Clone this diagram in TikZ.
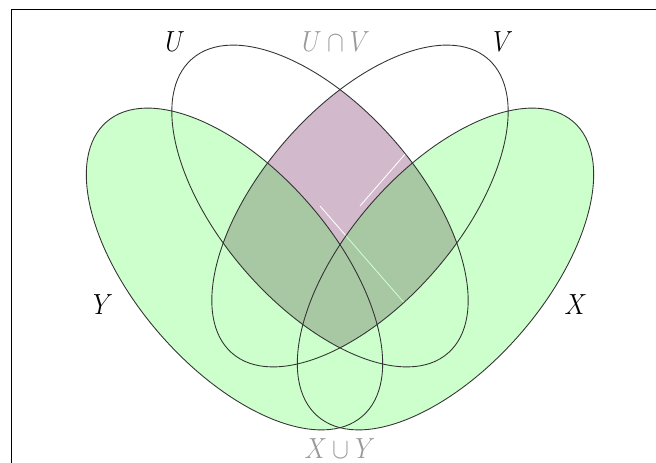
\documentclass[tikz,border=0pt]{standalone}
\usepackage{amsmath,amssymb}
\usepackage{xcolor}
\usepackage{tikz}
\definecolor{uvpink}{RGB}{211,185,204}

\begin{document}
\begin{tikzpicture}[
    posU/.style={shift={(-0.4,1.26)},rotate=-49},
    posV/.style={shift={(0.4,1.26)},rotate=49},
    posY/.style={shift={(-2.11,0)},rotate=-49},
    posX/.style={shift={(2.11,0)},rotate=49},
    rim/.style={draw=black!80,line width=0.5pt},
    seam/.style={draw=white,line width=0.5pt},
    lbl/.style={font=\Large,yscale=1.15},
    faint/.style={lbl,text=black!40}]
  \path[use as bounding box] (-6.8,-3.88) rectangle (6.32,5.38);
  \draw[line width=0.6pt] (-6.566,-3.88) |- (6.32,5.19);

  \begin{scope}
    \clip[posU] (0,0) ellipse (3.9 and 1.98);
    \clip[posV] (0,0) ellipse (3.9 and 1.98);
    \fill[uvpink] (-3,-3) rectangle (3,5);
    \draw[seam] (-0.4,1.26) -- ++(-49:3.9);
    \draw[seam] (0.4,1.26) -- ++(49:3.9);
  \end{scope}

  \fill[green,opacity=0.2] {[posY] (0,0) ellipse (3.9 and 1.98)}
                           {[posX] (0,0) ellipse (3.9 and 1.98)};

  \draw[rim,posY] (0,0) ellipse (3.9 and 1.98);
  \draw[rim,posX] (0,0) ellipse (3.9 and 1.98);
  \draw[rim,posU] (0,0) ellipse (3.9 and 1.98);
  \draw[rim,posV] (0,0) ellipse (3.9 and 1.98);

  \node[lbl]   (labU)  at (-3.3,4.54)  {$U$};
  \node[faint] (labUV) at (-0.08,4.54) {$U\cap V$};
  \node[lbl]   (labV)  at (3.26,4.54)  {$V$};
  \node[lbl]   (labY)  at (-4.74,-0.72) {$Y$};
  \node[lbl]   (labX)  at (4.72,-0.72)  {$X$};
  \node[faint] (labXY) at (0,-3.6)     {$X\cup Y$};
\end{tikzpicture}
\end{document}
